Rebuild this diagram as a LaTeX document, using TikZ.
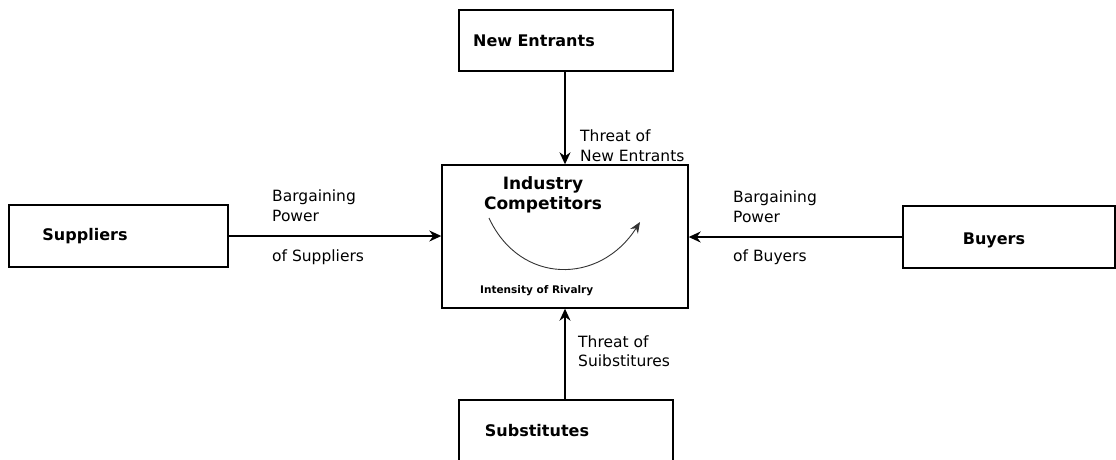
\documentclass[tikz,border=0pt]{standalone}
\usepackage{fontspec}
\setmainfont{DejaVu Sans}
\usetikzlibrary{arrows.meta}
\tikzset{
  box/.style={draw, line width=1.4pt, rectangle, inner sep=0pt},
  boxtext/.style={font=\fontsize{16}{20}\selectfont\bfseries, inner sep=0pt},
  lbl/.style={font=\fontsize{15.5}{19.5}\selectfont, align=left, inner sep=0pt, anchor=west},
  arr/.style={line width=1.4pt, -{Stealth[length=12pt,width=11pt]}},
  rival/.style={line width=0.9pt, black!80, -{Stealth[length=11pt,width=9pt]}}
}
\begin{document}
\begin{tikzpicture}[x=1pt,y=-1pt]
\useasboundingbox (0,0) rectangle (1116,459);
% boxes
\node[box, minimum width=214pt, minimum height=61pt] (ne) at (566,40.5) {};
\node[box, minimum width=246pt, minimum height=143pt] (ind) at (565,236.5) {};
\node[box, minimum width=219pt, minimum height=62pt] (sup) at (118.5,236) {};
\node[box, minimum width=212pt, minimum height=62pt] (buy) at (1009,237) {};
\node[box, minimum width=214pt, minimum height=76pt] (sub) at (566,438) {};
% box texts
\node[boxtext, anchor=west] (tne) at (473,41) {New\,\,Entrants};
\node[boxtext, font=\fontsize{17}{20}\selectfont\bfseries, align=center] (tind) at (543,195) {Industry\\Competitors};
\node[boxtext] (tsup) at (85,236) {Suppliers};
\node[boxtext] (tbuy) at (994,240) {Buyers};
\node[boxtext] (tsub) at (537,431) {Substitutes};
\node[font=\fontsize{10.5}{12}\selectfont\bfseries, inner sep=0pt, anchor=west] (tir) at (480,291) {Intensity of Rivalry};
% connectors
\draw[arr] (ind.north |- ne.south) -- (ind.north);
\draw[arr] (sup.east) -- (sup.east -| ind.west);
\draw[arr] (buy.west) -- (buy.west -| ind.east);
\draw[arr] (ind.south |- sub.north) -- (ind.south);
% rivalry curve
\coordinate (rs) at (489,218);
\coordinate (re) at (640,222);
\draw[rival] (rs) .. controls (520,285) and (600,285) .. (re);
% labels
\node[lbl] (lne) at (580,145.5) {Threat of\\New Entrants};
\node[lbl] (lsup1) at (272,205.5) {Bargaining\\Power};
\node[lbl] (lsup2) at (272,257) {of Suppliers};
\node[lbl] (lbuy1) at (733,206.5) {Bargaining\\Power};
\node[lbl] (lbuy2) at (733,257) {of Buyers};
\node[lbl] (lsub) at (578,351) {Threat of\\Suibstitures};
\end{tikzpicture}
\end{document}
